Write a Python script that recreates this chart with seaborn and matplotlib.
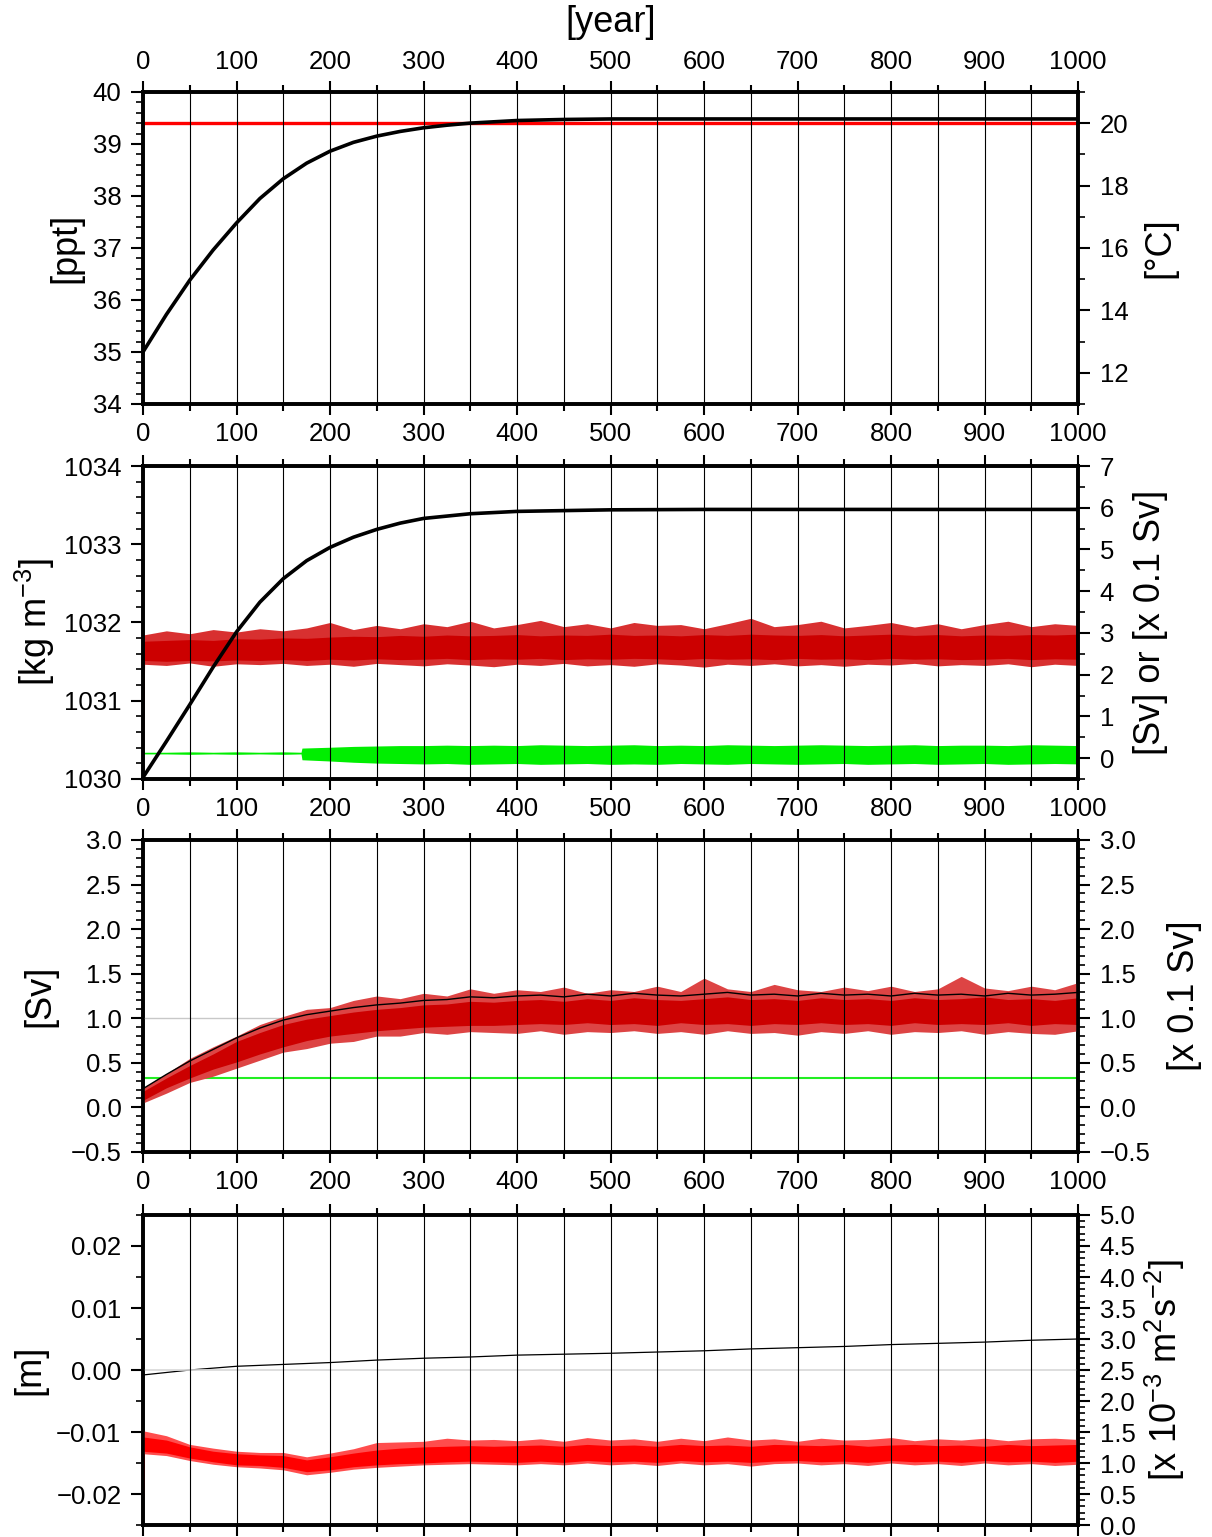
import numpy as np
import pandas as pd
import matplotlib
matplotlib.use('Agg')
import matplotlib.pyplot as plt
import seaborn as sns
from matplotlib.ticker import MultipleLocator, FuncFormatter

sns.set_theme(style='ticks', rc={'axes.edgecolor': 'black', 'xtick.color': 'black',
                                 'ytick.color': 'black', 'text.color': 'black',
                                 'axes.labelcolor': 'black'})
plt.rcParams['font.family'] = ['Liberation Sans', 'DejaVu Sans']
plt.rcParams['mathtext.fontset'] = 'custom'
plt.rcParams['mathtext.rm'] = 'Liberation Sans'
plt.rcParams['mathtext.it'] = 'Liberation Sans'

# ---- panel 1: salinity [ppt] and temperature [C]
sal_years = [0, 25, 50, 75, 100, 125, 150, 175, 200, 225, 250, 275, 300, 325, 350, 400, 450, 500, 600, 700, 800, 900, 1000]
salinity = [35.0, 35.72, 36.38, 36.96, 37.48, 37.95, 38.33, 38.63, 38.86, 39.03, 39.15, 39.24, 39.31, 39.36, 39.40, 39.45, 39.47, 39.48, 39.48, 39.48, 39.48, 39.48, 39.48]
temp_years = [0, 1000]
temperature = [20.0, 20.0]

# ---- common sampling of the noisy bands
band_years = [0, 25, 50, 75, 100, 125, 150, 175, 200, 225, 250, 275, 300, 325, 350, 375, 400, 425, 450, 475,
              500, 525, 550, 575, 600, 625, 650, 675, 700, 725, 750, 775, 800, 825, 850, 875, 900, 925, 950, 975, 1000]

# ---- panel 2: density [kg m-3], red / green transports [Sv]
dens_years = [0, 25, 50, 75, 100, 125, 150, 175, 200, 225, 250, 275, 300, 350, 400, 500, 600, 700, 800, 900, 1000]
density = [1030.02, 1030.48, 1030.95, 1031.43, 1031.88, 1032.26, 1032.56, 1032.79, 1032.96, 1033.09, 1033.19, 1033.27, 1033.33, 1033.39, 1033.42, 1033.44, 1033.445, 1033.445, 1033.445, 1033.445, 1033.445]

p2_red_lo = [2.34, 2.32, 2.34, 2.33, 2.35, 2.34, 2.36, 2.34, 2.37, 2.35, 2.38, 2.36, 2.37, 2.39, 2.36, 2.38, 2.37, 2.39, 2.36, 2.38, 2.37,
             2.39, 2.38, 2.36, 2.39, 2.37, 2.38, 2.36, 2.39, 2.37, 2.38, 2.36, 2.39, 2.37, 2.38, 2.36, 2.37, 2.39, 2.36, 2.38, 2.37]
p2_red_hi = [2.80, 2.82, 2.84, 2.82, 2.86, 2.85, 2.88, 2.87, 2.90, 2.92, 2.91, 2.94, 2.92, 2.95, 2.93, 2.94, 2.96, 2.93, 2.95, 2.94, 2.97,
             2.94, 2.95, 2.93, 2.96, 2.94, 2.97, 2.95, 2.94, 2.96, 2.93, 2.95, 2.97, 2.94, 2.96, 2.93, 2.95, 2.94, 2.96, 2.95, 2.97]
p2_red_smin = [2.25, 2.22, 2.28, 2.20, 2.26, 2.24, 2.27, 2.22, 2.25, 2.20, 2.27, 2.24, 2.21, 2.26, 2.23, 2.19, 2.25, 2.22, 2.27, 2.21, 2.24,
               2.20, 2.26, 2.23, 2.18, 2.25, 2.22, 2.26, 2.21, 2.24, 2.20, 2.25, 2.23, 2.27, 2.21, 2.24, 2.22, 2.26, 2.19, 2.25, 2.22]
p2_red_smax = [2.95, 3.05, 2.98, 3.08, 3.02, 3.10, 3.05, 3.12, 3.25, 3.08, 3.18, 3.10, 3.22, 3.15, 3.28, 3.12, 3.20, 3.30, 3.15, 3.22, 3.12,
               3.25, 3.18, 3.20, 3.10, 3.22, 3.35, 3.15, 3.20, 3.28, 3.12, 3.18, 3.25, 3.14, 3.22, 3.10, 3.20, 3.28, 3.15, 3.22, 3.18]
p2_red_start_years = [0, 1.5]
p2_red_start = [-0.35, 2.55]

green_years = [0, 25, 50, 75, 100, 125, 150, 169, 170, 200, 225, 250, 275, 300, 325, 350, 375, 400, 425, 450, 475,
               500, 525, 550, 575, 600, 625, 650, 675, 700, 725, 750, 775, 800, 825, 850, 875, 900, 925, 950, 975, 1000]
p2_green_lo = [0.10, 0.10, 0.09, 0.10, 0.09, 0.10, 0.09, 0.10, -0.04, -0.07,
               -0.10, -0.12, -0.13, -0.14, -0.13, -0.15, -0.14, -0.13, -0.15, -0.14, -0.13, -0.15, -0.14, -0.15, -0.13, -0.14,
               -0.15, -0.13, -0.14, -0.15, -0.14, -0.13, -0.15, -0.14, -0.13, -0.15, -0.14, -0.13, -0.15, -0.14, -0.13, -0.14]
p2_green_hi = [0.14, 0.14, 0.15, 0.14, 0.15, 0.14, 0.15, 0.14, 0.24, 0.26,
               0.28, 0.29, 0.30, 0.30, 0.31, 0.30, 0.31, 0.30, 0.32, 0.31, 0.30, 0.31, 0.32, 0.30, 0.31, 0.30,
               0.32, 0.31, 0.30, 0.31, 0.32, 0.31, 0.30, 0.31, 0.32, 0.30, 0.31, 0.31, 0.30, 0.32, 0.31, 0.30]

# ---- panel 3: overturning [Sv]
p3_red_lo = [0.08, 0.22, 0.33, 0.43, 0.51, 0.60, 0.68, 0.75, 0.80, 0.83, 0.86, 0.88, 0.90, 0.91, 0.92, 0.92, 0.93,
             0.94, 0.93, 0.95, 0.93, 0.94, 0.92, 0.95, 0.93, 0.94, 0.92, 0.94, 0.93, 0.95, 0.93, 0.94, 0.92, 0.95, 0.93, 0.94, 0.93, 0.95, 0.92, 0.94, 0.93]
p3_red_hi = [0.18, 0.33, 0.47, 0.60, 0.74, 0.84, 0.93, 0.99, 1.03, 1.07, 1.10, 1.12, 1.15, 1.16, 1.19, 1.18, 1.20,
             1.21, 1.19, 1.22, 1.20, 1.23, 1.21, 1.20, 1.22, 1.24, 1.21, 1.22, 1.20, 1.23, 1.21, 1.22, 1.20, 1.23, 1.21, 1.22, 1.24, 1.21, 1.22, 1.20, 1.23]
p3_red_smax = [0.22, 0.38, 0.55, 0.68, 0.80, 0.93, 1.02, 1.10, 1.12, 1.20, 1.25, 1.22, 1.28, 1.25, 1.33, 1.28, 1.32,
               1.30, 1.35, 1.28, 1.32, 1.30, 1.36, 1.30, 1.45, 1.33, 1.30, 1.38, 1.32, 1.30, 1.35, 1.31, 1.36, 1.30, 1.33, 1.47, 1.34, 1.31, 1.36, 1.32, 1.40]
p3_red_smin = [0.05, 0.16, 0.28, 0.35, 0.44, 0.53, 0.62, 0.66, 0.72, 0.74, 0.80, 0.80, 0.84, 0.82, 0.85, 0.84, 0.83,
               0.86, 0.82, 0.85, 0.84, 0.86, 0.83, 0.85, 0.82, 0.86, 0.83, 0.84, 0.81, 0.85, 0.83, 0.86, 0.82, 0.85, 0.84, 0.86, 0.82, 0.85, 0.83, 0.82, 0.86]
p3_black_hi = [0.21, 0.37, 0.52, 0.65, 0.78, 0.89, 0.98, 1.04, 1.08, 1.12, 1.15, 1.17, 1.20, 1.21, 1.24, 1.23, 1.25,
               1.26, 1.24, 1.27, 1.25, 1.28, 1.26, 1.25, 1.27, 1.29, 1.26, 1.27, 1.25, 1.28, 1.26, 1.27, 1.25, 1.28, 1.26, 1.27, 1.25, 1.28, 1.26, 1.27, 1.29]
p3_green_years = [0, 1000]
p3_green = [0.335, 0.335]

# ---- panel 4: sea level [m] and energy [x 10^-3 m2 s-2]
p4_red_lo = [-0.0131, -0.0134, -0.0142, -0.0148, -0.0153, -0.0154, -0.0157, -0.0164, -0.0161, -0.0156, -0.0153, -0.0151, -0.0150, -0.0148, -0.0147, -0.0148, -0.0149,
             -0.0147, -0.0149, -0.0146, -0.0148, -0.0147, -0.0149, -0.0146, -0.0148, -0.0147, -0.0149, -0.0147, -0.0146, -0.0148, -0.0147, -0.0149, -0.0146, -0.0148, -0.0147, -0.0149, -0.0146, -0.0148, -0.0147, -0.0149, -0.0147]
p4_red_hi = [-0.0108, -0.0113, -0.0124, -0.0131, -0.0135, -0.0137, -0.0138, -0.0145, -0.0140, -0.0134, -0.0129, -0.0126, -0.0124, -0.0123, -0.0122, -0.0123, -0.0122,
             -0.0121, -0.0123, -0.0120, -0.0122, -0.0121, -0.0123, -0.0120, -0.0122, -0.0121, -0.0123, -0.0120, -0.0121, -0.0122, -0.0120, -0.0123, -0.0121, -0.0120, -0.0122, -0.0121, -0.0123, -0.0120, -0.0122, -0.0121, -0.0120]
p4_red_smax = [-0.0098, -0.0106, -0.0120, -0.0126, -0.0131, -0.0133, -0.0133, -0.0140, -0.0134, -0.0127, -0.0117, -0.0116, -0.0115, -0.0110, -0.0113, -0.0112, -0.0114,
               -0.0111, -0.0115, -0.0109, -0.0113, -0.0111, -0.0115, -0.0110, -0.0114, -0.0108, -0.0113, -0.0111, -0.0115, -0.0110, -0.0113, -0.0112, -0.0109, -0.0114, -0.0111, -0.0113, -0.0110, -0.0114, -0.0111, -0.0110, -0.0112]
p4_red_smin = [-0.0135, -0.0138, -0.0146, -0.0152, -0.0156, -0.0158, -0.0161, -0.0169, -0.0165, -0.0160, -0.0157, -0.0155, -0.0153, -0.0152, -0.0151, -0.0152, -0.0153,
               -0.0151, -0.0153, -0.0150, -0.0153, -0.0151, -0.0154, -0.0150, -0.0153, -0.0151, -0.0155, -0.0151, -0.0150, -0.0153, -0.0151, -0.0154, -0.0150, -0.0153, -0.0151, -0.0154, -0.0150, -0.0153, -0.0151, -0.0154, -0.0152]
p4_red_start_years = [0, 1.5]
p4_red_start = [-0.022, -0.0115]
p4_black_years = [0, 50, 100, 150, 200, 250, 300, 350, 400, 450, 500, 550, 600, 650, 700, 750, 800, 850, 900, 950, 1000]
p4_black = [2.42, 2.50, 2.56, 2.59, 2.62, 2.66, 2.69, 2.71, 2.74, 2.755, 2.77, 2.79, 2.81, 2.84, 2.86, 2.88, 2.91, 2.93, 2.95, 2.98, 3.00]

TS = 18.5
LS = 26
DARK_RED = '#cc0000'


def fmt(d):
    def f(v, pos):
        if abs(v) < 1e-9:
            v = 0.0
        return f"{v:.{d}f}".replace('-', '\u2212')
    return FuncFormatter(f)


def style(ax, ax2, top_labels=False, bottom_labels=True):
    ax.set_xlim(0, 1000)
    ax.xaxis.set_major_locator(MultipleLocator(100))
    ax.xaxis.set_minor_locator(MultipleLocator(50))
    ax.xaxis.set_major_formatter(fmt(0))
    ax.grid(axis='x', which='both', color='black', lw=0.8)
    ax.set_axisbelow(False)
    ax.tick_params(axis='x', which='major', direction='out', length=8, width=1.5, top=True, bottom=True,
                   labeltop=top_labels, labelbottom=bottom_labels, labelsize=TS, pad=5)
    ax.tick_params(axis='x', which='minor', direction='out', length=5, width=1.5, top=True, bottom=True)
    ax.tick_params(axis='y', which='major', direction='out', length=8.5, width=1.5, left=True, right=False,
                   labelsize=TS, pad=7)
    ax.tick_params(axis='y', which='minor', direction='out', length=5, width=1.2, left=True, right=False)
    ax2.tick_params(axis='y', which='major', direction='out', length=8.5, width=1.5, right=True, left=False,
                    labelsize=TS, pad=7)
    ax2.tick_params(axis='y', which='minor', direction='out', length=5, width=1.2, right=True, left=False)
    for a in (ax, ax2):
        for s in a.spines.values():
            s.set_linewidth(2.6)
            s.set_visible(True)
    ax.set_zorder(ax2.get_zorder() + 1)
    ax.patch.set_visible(False)


fig = plt.figure(figsize=(12.12, 15.37), dpi=100)
left, width = 0.118, 0.7715
axs = [fig.add_axes([left, b, width, h]) for b, h in
       [(0.7372, 0.2030), (0.4932, 0.2036), (0.2505, 0.2030), (0.0078, 0.2017)]]
twins = [a.twinx() for a in axs]

# panel 1
ax, ax2 = axs[0], twins[0]
sns.lineplot(x=temp_years, y=temperature, ax=ax2, color='red', lw=2.4)
sns.lineplot(x=sal_years, y=salinity, ax=ax, color='black', lw=2.6)
ax.set_ylim(34, 40)
ax2.set_ylim(11, 21)
ax.yaxis.set_major_locator(MultipleLocator(1))
ax.yaxis.set_minor_locator(MultipleLocator(0.2))
ax2.yaxis.set_major_locator(MultipleLocator(2))
ax2.yaxis.set_minor_locator(MultipleLocator(1))
ax.yaxis.set_major_formatter(fmt(0))
ax2.yaxis.set_major_formatter(fmt(0))
style(ax, ax2, top_labels=True)
ax.set_xlabel('[year]', fontsize=LS)
ax.xaxis.set_label_position('top')
ax.xaxis.label.set_va('center')
ax.xaxis.set_label_coords(0.5, 1.224)
ax.set_ylabel('[ppt]', fontsize=LS, va='center')
ax.yaxis.set_label_coords(-0.083, 0.5)
ax2.set_ylabel('[°C]', fontsize=LS, va='center')
ax2.yaxis.set_label_coords(1.088, 0.5)

# panel 2
ax, ax2 = axs[1], twins[1]
ax2.fill_between(band_years, p2_red_smin, p2_red_smax, color='#d83030', lw=0)
ax2.fill_between(band_years, p2_red_lo, p2_red_hi, color=DARK_RED, lw=0)
sns.lineplot(x=p2_red_start_years, y=p2_red_start, ax=ax2, color=DARK_RED, lw=1.2)
ax2.fill_between(green_years, p2_green_lo, p2_green_hi, color='#00ee00', lw=0)
sns.lineplot(x=dens_years, y=density, ax=ax, color='black', lw=2.6)
ax.set_ylim(1030, 1034)
ax2.set_ylim(-0.5, 7)
ax.yaxis.set_major_locator(MultipleLocator(1))
ax.yaxis.set_minor_locator(MultipleLocator(0.2))
ax2.yaxis.set_major_locator(MultipleLocator(1))
ax2.yaxis.set_minor_locator(MultipleLocator(0.5))
ax.yaxis.set_major_formatter(fmt(0))
ax2.yaxis.set_major_formatter(fmt(0))
style(ax, ax2)
ax.set_ylabel('[kg m$^{-3}$]', fontsize=LS, va='center')
ax.yaxis.set_label_coords(-0.1155, 0.5)
ax2.set_ylabel('[Sv] or [x 0.1 Sv]', fontsize=LS, va='center')
ax2.yaxis.set_label_coords(1.077, 0.5)

# panel 3
ax, ax2 = axs[2], twins[2]
ax.axhline(1.0, color='#c8c8c8', lw=1, zorder=1)
ax.fill_between(band_years, p3_red_smin, p3_red_smax, color='#dd4444', lw=0, zorder=2.1)
sns.lineplot(x=band_years, y=p3_black_hi, ax=ax, color='black', lw=1.0, zorder=2.15)
ax.fill_between(band_years, p3_red_lo, p3_red_hi, color=DARK_RED, lw=0, zorder=2.2)
sns.lineplot(x=p3_green_years, y=p3_green, ax=ax2, color='#22ee22', lw=1.5)
for a in (ax, ax2):
    a.set_ylim(-0.5, 3.0)
    a.yaxis.set_major_locator(MultipleLocator(0.5))
    a.yaxis.set_minor_locator(MultipleLocator(0.1))
    a.yaxis.set_major_formatter(fmt(1))
style(ax, ax2)
ax.set_ylabel('[Sv]', fontsize=LS, va='center')
ax.yaxis.set_label_coords(-0.110, 0.5)
ax2.set_ylabel('[x 0.1 Sv]', fontsize=LS, va='center')
ax2.yaxis.set_label_coords(1.114, 0.5)

# panel 4
ax, ax2 = axs[3], twins[3]
ax.axhline(0.0, color='#d8d8d8', lw=1.2, zorder=1)
ax.fill_between(band_years, p4_red_smin, p4_red_smax, color='#ff4d4d', lw=0, zorder=2.1)
ax.fill_between(band_years, p4_red_lo, p4_red_hi, color='red', lw=0, zorder=2.2)
sns.lineplot(x=p4_red_start_years, y=p4_red_start, ax=ax, color='red', lw=1.2)
sns.lineplot(x=p4_black_years, y=p4_black, ax=ax2, color='black', lw=0.9)
ax.set_ylim(-0.025, 0.025)
ax2.set_ylim(0, 5)
ax.yaxis.set_major_locator(MultipleLocator(0.01))
ax.yaxis.set_minor_locator(MultipleLocator(0.005))
ax.yaxis.set_major_formatter(fmt(2))
ax2.yaxis.set_major_locator(MultipleLocator(0.5))
ax2.yaxis.set_minor_locator(MultipleLocator(0.1))
ax2.yaxis.set_major_formatter(fmt(1))
style(ax, ax2, bottom_labels=False)
ax.set_ylabel('[m]', fontsize=LS, va='center')
ax.yaxis.set_label_coords(-0.121, 0.5)
ax2.set_ylabel('[x 10$^{-3}$ m$^{2}$s$^{-2}$]', fontsize=LS, va='center')
ax2.yaxis.set_label_coords(1.093, 0.5)

for a in axs + twins:
    if a.get_legend() is not None:
        a.get_legend().remove()

fig.savefig('out.png', dpi=100, facecolor='white')
